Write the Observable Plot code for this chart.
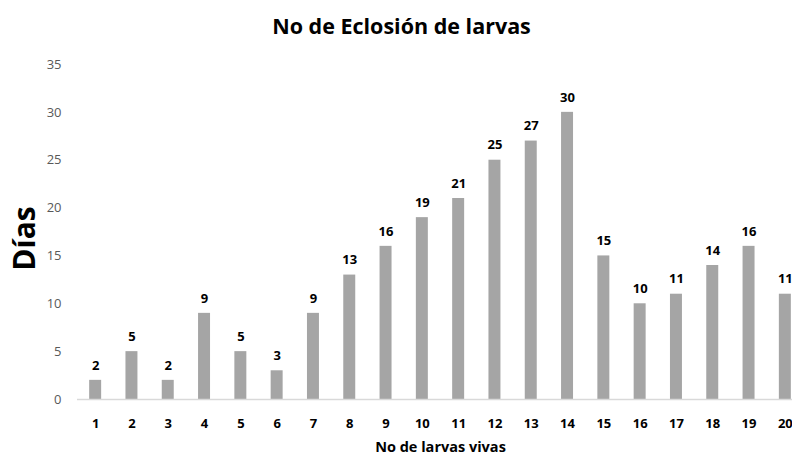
<!DOCTYPE html>
<html><head><meta charset="utf-8">
<script src="https://cdn.jsdelivr.net/npm/d3@7"></script>
<script src="https://cdn.jsdelivr.net/npm/@observablehq/plot@0.6"></script>
<style>
html,body{margin:0;padding:0;background:#fff;overflow:hidden;}
#wrap{width:792px;height:455px;overflow:hidden;}
#wrap svg{max-width:none !important;}
</style></head>
<body><div id="wrap"></div>
<script>
const categories = ["1","2","3","4","5","6","7","8","9","10","11","12","13","14","15","16","17","18","19","20"];
const values = [2,5,2,9,5,3,9,13,16,19,21,25,27,30,15,10,11,14,16,11];
const yTicks = [0,5,10,15,20,25,30,35];
const title = "No de Eclosión de larvas";
const xLabel = "No de larvas vivas";
const yLabel = "Días";

const data = categories.map((c,i)=>({c, v: values[i]}));
const font = "'Open Sans', sans-serif";

const chart = Plot.plot({
  width: 803 + 17,
  height: 455,
  marginLeft: 77,
  marginRight: 17,
  marginTop: 64,
  marginBottom: 56,
  style: {fontFamily: font, background: "#fff", overflow: "visible", maxWidth: "none"},
  x: {domain: categories, paddingInner: 0.67, paddingOuter: 0.335, round: false},
  y: {domain: [0,35]},
  marks: [
    Plot.axisY({ticks: yTicks, tickSize: 0, tickPadding: 16, label: null, fontSize: 13, fill: "#595959"}),
    Plot.axisX({tickSize: 0, tickPadding: 19, label: null, fontSize: 13, fontWeight: "bold", fill: "#000"}),
    Plot.barY(data, {x: "c", y: "v", fill: "#a5a5a5"}),
    Plot.ruleY([0], {stroke: "#d9d9d9", strokeWidth: 1.5}),
    Plot.text(data, {x: "c", y: "v", text: d => String(d.v), dy: -15, fontSize: 13, fontWeight: "bold", fill: "#000"}),
    Plot.text([title], {frameAnchor: "top", lineAnchor: "middle", textAnchor: "middle", dx: -39, dy: -37.5, fontSize: 21.5, fontWeight: "bold", fill: "#000"}),
    Plot.text([xLabel], {frameAnchor: "bottom", lineAnchor: "middle", textAnchor: "middle", dy: 47.5, fontSize: 14.5, fontWeight: "bold", fill: "#000"}),
    Plot.text([yLabel], {frameAnchor: "left", lineAnchor: "middle", textAnchor: "middle", dx: -52, dy: 6.5, rotate: -90, fontSize: 30, fontWeight: "bold", fill: "#000"})
  ]
});
document.getElementById("wrap").appendChild(chart);
</script></body></html>
